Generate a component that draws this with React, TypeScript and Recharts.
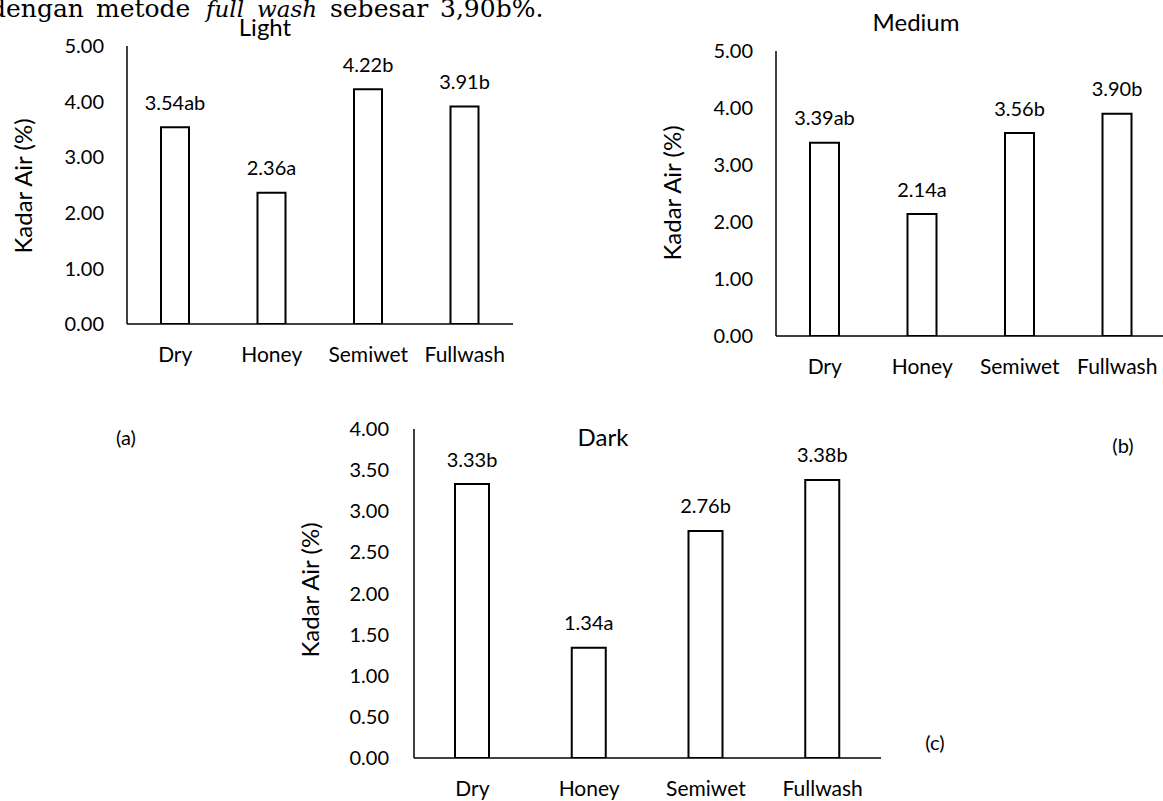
import React from 'react';
import { BarChart, Bar, XAxis, YAxis, LabelList } from 'recharts';

const categories = ['Dry', 'Honey', 'Semiwet', 'Fullwash'];

const lightValues = [3.54, 2.36, 4.22, 3.91];
const lightLetters = ['ab', 'a', 'b', 'b'];

const mediumValues = [3.39, 2.14, 3.56, 3.9];
const mediumLetters = ['ab', 'a', 'b', 'b'];

const darkValues = [3.33, 1.34, 2.76, 3.38];
const darkLetters = ['b', 'a', 'b', 'b'];

const ticks5 = [0, 1, 2, 3, 4, 5];
const ticks4 = [0, 0.5, 1, 1.5, 2, 2.5, 3, 3.5, 4];

const FONT = 'Lato, "Open Sans", sans-serif';
const SERIF = '"DejaVu Serif", "Liberation Serif", serif';

const build = (values: number[], letters: string[]) =>
  categories.map((c, i) => ({ name: c, value: values[i], label: values[i].toFixed(2) + letters[i] }));

const renderLabel = (props: any) => {
  const { x, y, width, value } = props;
  return (
    <text
      x={Number(x) + Number(width) / 2}
      y={Number(y) - 25.5}
      textAnchor="middle"
      dominantBaseline="central"
      fontFamily={FONT}
      fontSize={20}
      fill="#000"
    >
      {value}
    </text>
  );
};

type PanelProps = {
  data: any[];
  left: number;
  top: number;
  width: number;
  height: number;
  margin: any;
  yWidth: number;
  xHeight: number;
  domainMax: number;
  ticks: number[];
  barSize: number;
  tickGap: number;
};

const Panel = (p: PanelProps) => (
  <div style={{ position: 'absolute', left: p.left, top: p.top }}>
    <BarChart width={p.width} height={p.height} data={p.data} margin={p.margin}>
      <XAxis
        dataKey="name"
        height={p.xHeight}
        tickLine={false}
        tickSize={0}
        tickMargin={23}
        axisLine={{ stroke: '#000', strokeWidth: 1.5 }}
        tick={{ fill: '#000', fontSize: 21, fontFamily: FONT }}
        interval={0}
      />
      <YAxis
        width={p.yWidth}
        domain={[0, p.domainMax]}
        ticks={p.ticks}
        tickFormatter={(v: number) => v.toFixed(2)}
        tickLine={false}
        tickSize={0}
        tickMargin={p.tickGap}
        axisLine={{ stroke: '#000', strokeWidth: 1.5 }}
        tick={{ fill: '#000', fontSize: 20, fontFamily: FONT }}
        allowDataOverflow
      />
      <Bar dataKey="value" fill="#fff" stroke="#000" strokeWidth={2} barSize={p.barSize} isAnimationActive={false}>
        <LabelList dataKey="label" content={renderLabel} />
      </Bar>
    </BarChart>
  </div>
);

const Txt = ({ x, y, size, children, rotate }: any) => (
  <div
    style={{
      position: 'absolute',
      left: x,
      top: y,
      transform: `translate(-50%, -50%)${rotate ? ' rotate(-90deg)' : ''}`,
      fontFamily: FONT,
      fontSize: size,
      color: '#000',
      whiteSpace: 'nowrap',
      lineHeight: 1,
    }}
  >
    {children}
  </div>
);

export default function App() {
  return (
    <div
      style={{
        position: 'absolute',
        left: 0,
        top: 0,
        width: 1163,
        height: 801,
        overflow: 'hidden',
        background: '#fff',
      }}
    >
      <svg width={700} height={30} style={{ position: 'absolute', left: 0, top: 0 }}>
        <text y={17} fontFamily={SERIF} fontSize={25} fill="#000">
          <tspan x={-10}>dengan</tspan>
          <tspan x={96}>metode</tspan>
          <tspan x={206} fontStyle="italic" fontSize={23}>full</tspan>
          <tspan x={257} fontStyle="italic" fontSize={23}>wash</tspan>
          <tspan x={330}>sebesar</tspan>
          <tspan x={440}>3,90b%.</tspan>
        </text>
      </svg>

      <Panel
        data={build(lightValues, lightLetters)}
        left={0}
        top={0}
        width={530}
        height={400}
        margin={{ top: 46, right: 17, bottom: 0, left: 0 }}
        yWidth={127}
        xHeight={76}
        domainMax={5}
        ticks={ticks5}
        barSize={28}
        tickGap={23}
      />
      <Panel
        data={build(mediumValues, mediumLetters)}
        left={640}
        top={0}
        width={526}
        height={400}
        margin={{ top: 51, right: 0, bottom: 0, left: 0 }}
        yWidth={136}
        xHeight={64}
        domainMax={5}
        ticks={ticks5}
        barSize={29}
        tickGap={23}
      />
      <Panel
        data={build(darkValues, darkLetters)}
        left={280}
        top={400}
        width={620}
        height={401}
        margin={{ top: 29, right: 19, bottom: 0, left: 0 }}
        yWidth={134}
        xHeight={43}
        domainMax={4}
        ticks={ticks4}
        barSize={34}
        tickGap={25}
      />

      <Txt x={265} y={27} size={24}>Light</Txt>
      <Txt x={916} y={22} size={24}>Medium</Txt>
      <Txt x={603} y={437} size={24}>Dark</Txt>

      <Txt x={23} y={186} size={24} rotate>Kadar Air (%)</Txt>
      <Txt x={672} y={193} size={24} rotate>Kadar Air (%)</Txt>
      <Txt x={310} y={590} size={24} rotate>Kadar Air (%)</Txt>

      <Txt x={126} y={437} size={20}>(a)</Txt>
      <Txt x={1123} y={445} size={20}>(b)</Txt>
      <Txt x={935} y={742} size={20}>(c)</Txt>
    </div>
  );
}
